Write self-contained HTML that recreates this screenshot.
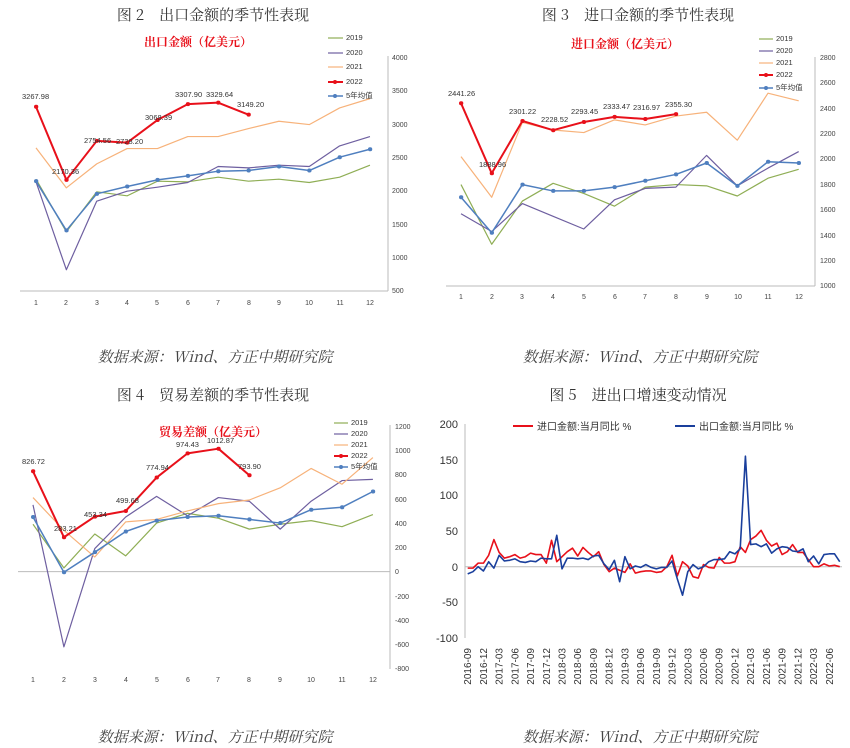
<!DOCTYPE html>
<html><head><meta charset="utf-8"><style>
html,body{margin:0;padding:0;background:#fff;}
svg{display:block;font-family:"Liberation Sans","Noto Sans CJK SC",sans-serif;}
.t{font-family:"Noto Serif CJK SC","Liberation Serif",serif;font-size:15px;fill:#333;}
.src{font-family:"Noto Serif CJK SC","Liberation Serif",serif;font-size:15px;fill:#444;font-style:italic;}
.sub{font-family:"Noto Serif CJK SC",serif;font-size:12px;fill:#e8101a;font-weight:bold;}
.tk{font-size:7px;fill:#444;}
.lg{font-size:7.5px;fill:#333;}
.dl{font-size:7.5px;fill:#333;}
.ln{fill:none;vector-effect:non-scaling-stroke;stroke-linejoin:round;}
.mk{fill:none;vector-effect:non-scaling-stroke;stroke-linecap:round;}
.ax{stroke:#bbb;stroke-width:1;fill:none;}
</style></head><body>
<svg width="850" height="748" viewBox="0 0 850 748" xmlns="http://www.w3.org/2000/svg">
<!-- ===== Chart 1 ===== -->
<text class="t" x="213" y="20" text-anchor="middle">图 2　出口金额的季节性表现</text>
<text class="sub" x="198" y="46" text-anchor="middle">出口金额（亿美元）</text>
<line class="ax" x1="388" y1="56" x2="388" y2="291"/>
<line class="ax" x1="20" y1="291" x2="388" y2="291"/>
<g class="tk">
<text x="392" y="60">4000</text><text x="392" y="93">3500</text><text x="392" y="127">3000</text><text x="392" y="160">2500</text><text x="392" y="193">2000</text><text x="392" y="227">1500</text><text x="392" y="260">1000</text><text x="392" y="293">500</text>
</g>
<g class="tk" text-anchor="middle">
<text x="36" y="305">1</text><text x="66" y="305">2</text><text x="97" y="305">3</text><text x="127" y="305">4</text><text x="157" y="305">5</text><text x="188" y="305">6</text><text x="218" y="305">7</text><text x="249" y="305">8</text><text x="279" y="305">9</text><text x="309" y="305">10</text><text x="340" y="305">11</text><text x="370" y="305">12</text>
</g>
<g transform="translate(5.64,324.3) scale(30.36,-0.06657)">
<polyline class="ln" stroke="#8fae55" stroke-width="1.2" points="1,2180 2,1390 3,1990 4,1930 5,2150 6,2140 7,2210 8,2150 9,2180 10,2130 11,2210 12,2390"/>
<polyline class="ln" stroke="#6e5fa0" stroke-width="1.2" points="1,2140 2,820 3,1850 4,2000 5,2060 6,2130 7,2370 8,2350 9,2390 10,2370 11,2680 12,2820"/>
<polyline class="ln" stroke="#f7b27a" stroke-width="1.2" points="1,2650 2,2050 3,2410 4,2640 5,2640 6,2820 7,2820 8,2940 9,3050 10,3000 11,3250 12,3390"/>
<polyline class="ln" stroke="#4f7fbf" stroke-width="1.5" points="1,2150 2,1410 3,1960 4,2070 5,2170 6,2230 7,2300 8,2310 9,2370 10,2310 11,2510 12,2630"/>
<path class="mk" stroke="#4f7fbf" stroke-width="4" d="M1 2150h.01M2 1410h.01M3 1960h.01M4 2070h.01M5 2170h.01M6 2230h.01M7 2300h.01M8 2310h.01M9 2370h.01M10 2310h.01M11 2510h.01M12 2630h.01"/>
<polyline class="ln" stroke="#e8101a" stroke-width="2" points="1,3267.98 2,2170.36 3,2754.56 4,2728.2 5,3068.39 6,3307.9 7,3329.64 8,3149.2"/>
<path class="mk" stroke="#e8101a" stroke-width="4" d="M1 3267.98h.01M2 2170.36h.01M3 2754.56h.01M4 2728.2h.01M5 3068.39h.01M6 3307.9h.01M7 3329.64h.01M8 3149.2h.01"/>
</g>
<g class="dl">
<text x="22" y="99">3267.98</text><text x="52" y="174">2170.36</text><text x="84" y="143">2754.56</text><text x="116" y="144">2728.20</text><text x="145" y="120">3068.39</text><text x="175" y="97">3307.90</text><text x="206" y="97">3329.64</text><text x="237" y="107">3149.20</text>
</g>
<g class="lg">
<line x1="328" y1="38" x2="343" y2="38" stroke="#8fae55" stroke-width="1.2"/><text x="346" y="40">2019</text>
<line x1="328" y1="53" x2="343" y2="53" stroke="#6e5fa0" stroke-width="1.2"/><text x="346" y="55">2020</text>
<line x1="328" y1="67" x2="343" y2="67" stroke="#f7b27a" stroke-width="1.2"/><text x="346" y="69">2021</text>
<line x1="328" y1="82" x2="343" y2="82" stroke="#e8101a" stroke-width="2"/><circle cx="335" cy="82" r="2" fill="#e8101a"/><text x="346" y="84">2022</text>
<line x1="328" y1="96" x2="343" y2="96" stroke="#4f7fbf" stroke-width="1.5"/><circle cx="335" cy="96" r="2" fill="#4f7fbf"/><text x="346" y="98">5年均值</text>
</g>
<text class="src" x="215" y="362" text-anchor="middle">数据来源：Wind、方正中期研究院</text>

<!-- ===== Chart 2 ===== -->
<text class="t" x="638" y="20" text-anchor="middle">图 3　进口金额的季节性表现</text>
<text class="sub" x="625" y="48" text-anchor="middle">进口金额（亿美元）</text>
<line class="ax" x1="815" y1="57" x2="815" y2="286"/>
<line class="ax" x1="446" y1="286" x2="815" y2="286"/>
<g class="tk">
<text x="820" y="60">2800</text><text x="820" y="85">2600</text><text x="820" y="111">2400</text><text x="820" y="136">2200</text><text x="820" y="161">2000</text><text x="820" y="187">1800</text><text x="820" y="212">1600</text><text x="820" y="238">1400</text><text x="820" y="263">1200</text><text x="820" y="288">1000</text>
</g>
<g class="tk" text-anchor="middle">
<text x="461" y="299">1</text><text x="492" y="299">2</text><text x="522" y="299">3</text><text x="553" y="299">4</text><text x="584" y="299">5</text><text x="615" y="299">6</text><text x="645" y="299">7</text><text x="676" y="299">8</text><text x="707" y="299">9</text><text x="738" y="299">10</text><text x="768" y="299">11</text><text x="799" y="299">12</text>
</g>
<g transform="translate(430.3,413) scale(30.7,-0.1269)">
<polyline class="ln" stroke="#8fae55" stroke-width="1.2" points="1,1800 2,1330 3,1670 4,1810 5,1730 6,1630 7,1780 8,1800 9,1790 10,1710 11,1850 12,1920"/>
<polyline class="ln" stroke="#6e5fa0" stroke-width="1.2" points="1,1570 2,1430 3,1650 4,1550 5,1450 6,1680 7,1770 8,1780 9,2030 10,1790 11,1930 12,2060"/>
<polyline class="ln" stroke="#f7b27a" stroke-width="1.2" points="1,2020 2,1700 3,2290 4,2230 5,2210 6,2310 7,2270 8,2340 9,2370 10,2150 11,2520 12,2460"/>
<polyline class="ln" stroke="#4f7fbf" stroke-width="1.5" points="1,1700 2,1420 3,1800 4,1750 5,1750 6,1780 7,1830 8,1880 9,1970 10,1790 11,1980 12,1970"/>
<path class="mk" stroke="#4f7fbf" stroke-width="4" d="M1 1700h.01M2 1420h.01M3 1800h.01M4 1750h.01M5 1750h.01M6 1780h.01M7 1830h.01M8 1880h.01M9 1970h.01M10 1790h.01M11 1980h.01M12 1970h.01"/>
<polyline class="ln" stroke="#e8101a" stroke-width="2" points="1,2441.26 2,1888.96 3,2301.22 4,2228.52 5,2293.45 6,2333.47 7,2316.97 8,2355.3"/>
<path class="mk" stroke="#e8101a" stroke-width="4" d="M1 2441.26h.01M2 1888.96h.01M3 2301.22h.01M4 2228.52h.01M5 2293.45h.01M6 2333.47h.01M7 2316.97h.01M8 2355.3h.01"/>
</g>
<g class="dl">
<text x="448" y="96">2441.26</text><text x="479" y="167">1888.96</text><text x="509" y="114">2301.22</text><text x="541" y="122">2228.52</text><text x="571" y="114">2293.45</text><text x="603" y="109">2333.47</text><text x="633" y="110">2316.97</text><text x="665" y="107">2355.30</text>
</g>
<g class="lg">
<line x1="759" y1="39" x2="773" y2="39" stroke="#8fae55" stroke-width="1.2"/><text x="776" y="41">2019</text>
<line x1="759" y1="51" x2="773" y2="51" stroke="#6e5fa0" stroke-width="1.2"/><text x="776" y="53">2020</text>
<line x1="759" y1="63" x2="773" y2="63" stroke="#f7b27a" stroke-width="1.2"/><text x="776" y="65">2021</text>
<line x1="759" y1="75" x2="773" y2="75" stroke="#e8101a" stroke-width="2"/><circle cx="766" cy="75" r="2" fill="#e8101a"/><text x="776" y="77">2022</text>
<line x1="759" y1="88" x2="773" y2="88" stroke="#4f7fbf" stroke-width="1.5"/><circle cx="766" cy="88" r="2" fill="#4f7fbf"/><text x="776" y="90">5年均值</text>
</g>
<text class="src" x="640" y="362" text-anchor="middle">数据来源：Wind、方正中期研究院</text>

<!-- ===== Chart 3 ===== -->
<text class="t" x="213" y="400" text-anchor="middle">图 4　贸易差额的季节性表现</text>
<text class="sub" x="213" y="436" text-anchor="middle">贸易差额（亿美元）</text>
<line class="ax" x1="390" y1="425" x2="390" y2="669"/>
<line class="ax" x1="18" y1="571.6" x2="390" y2="571.6"/>
<g class="tk">
<text x="395" y="429">1200</text><text x="395" y="453">1000</text><text x="395" y="477">800</text><text x="395" y="502">600</text><text x="395" y="526">400</text><text x="395" y="550">200</text><text x="395" y="574">0</text><text x="395" y="599">-200</text><text x="395" y="623">-400</text><text x="395" y="647">-600</text><text x="395" y="671">-800</text>
</g>
<g class="tk" text-anchor="middle">
<text x="33" y="682">1</text><text x="64" y="682">2</text><text x="95" y="682">3</text><text x="126" y="682">4</text><text x="157" y="682">5</text><text x="188" y="682">6</text><text x="218" y="682">7</text><text x="249" y="682">8</text><text x="280" y="682">9</text><text x="311" y="682">10</text><text x="342" y="682">11</text><text x="373" y="682">12</text>
</g>
<g transform="translate(2.1,571.6) scale(30.9,-0.12135)">
<polyline class="ln" stroke="#8fae55" stroke-width="1.2" points="1,390 2,30 3,310 4,130 5,400 6,480 7,440 8,350 9,390 10,420 11,370 12,470"/>
<polyline class="ln" stroke="#6e5fa0" stroke-width="1.2" points="1,550 2,-620 3,190 4,450 5,620 6,460 7,610 8,580 9,350 10,580 11,750 12,760"/>
<polyline class="ln" stroke="#f7b27a" stroke-width="1.2" points="1,610 2,340 3,120 4,410 5,430 6,500 7,560 8,590 9,690 10,850 11,720 12,940"/>
<polyline class="ln" stroke="#4f7fbf" stroke-width="1.5" points="1,450 2,-5 3,160 4,330 5,420 6,450 7,460 8,430 9,400 10,510 11,530 12,660"/>
<path class="mk" stroke="#4f7fbf" stroke-width="4" d="M1 450h.01M2 -5h.01M3 160h.01M4 330h.01M5 420h.01M6 450h.01M7 460h.01M8 430h.01M9 400h.01M10 510h.01M11 530h.01M12 660h.01"/>
<polyline class="ln" stroke="#e8101a" stroke-width="2" points="1,826.72 2,283.21 3,453.34 4,499.68 5,774.94 6,974.43 7,1012.87 8,793.9"/>
<path class="mk" stroke="#e8101a" stroke-width="4" d="M1 826.72h.01M2 283.21h.01M3 453.34h.01M4 499.68h.01M5 774.94h.01M6 974.43h.01M7 1012.87h.01M8 793.9h.01"/>
</g>
<g class="dl">
<text x="22" y="464">826.72</text><text x="54" y="531">283.21</text><text x="84" y="517">453.34</text><text x="116" y="503">499.68</text><text x="146" y="470">774.94</text><text x="176" y="447">974.43</text><text x="207" y="443">1012.87</text><text x="238" y="469">793.90</text>
</g>
<g class="lg">
<line x1="334" y1="423" x2="348" y2="423" stroke="#8fae55" stroke-width="1.2"/><text x="351" y="425">2019</text>
<line x1="334" y1="434" x2="348" y2="434" stroke="#6e5fa0" stroke-width="1.2"/><text x="351" y="436">2020</text>
<line x1="334" y1="445" x2="348" y2="445" stroke="#f7b27a" stroke-width="1.2"/><text x="351" y="447">2021</text>
<line x1="334" y1="456" x2="348" y2="456" stroke="#e8101a" stroke-width="2"/><circle cx="341" cy="456" r="2" fill="#e8101a"/><text x="351" y="458">2022</text>
<line x1="334" y1="467" x2="348" y2="467" stroke="#4f7fbf" stroke-width="1.5"/><circle cx="341" cy="467" r="2" fill="#4f7fbf"/><text x="351" y="469">5年均值</text>
</g>
<text class="src" x="215" y="742" text-anchor="middle">数据来源：Wind、方正中期研究院</text>

<!-- ===== Chart 4 ===== -->
<text class="t" x="638" y="400" text-anchor="middle">图 5　进出口增速变动情况</text>
<line class="ax" x1="465" y1="424" x2="465" y2="638"/>
<line class="ax" x1="465" y1="566.7" x2="842" y2="566.7"/>
<g style="font-size:11px;fill:#333" text-anchor="end">
<text x="458" y="428">200</text><text x="458" y="464">150</text><text x="458" y="499">100</text><text x="458" y="535">50</text><text x="458" y="571">0</text><text x="458" y="606">-50</text><text x="458" y="642">-100</text>
</g>
<g style="font-size:10px;fill:#333" text-anchor="end">
<text transform="translate(471.2,648) rotate(-90)">2016-09</text>
<text transform="translate(486.9,648) rotate(-90)">2016-12</text>
<text transform="translate(502.6,648) rotate(-90)">2017-03</text>
<text transform="translate(518.4,648) rotate(-90)">2017-06</text>
<text transform="translate(534.1,648) rotate(-90)">2017-09</text>
<text transform="translate(549.8,648) rotate(-90)">2017-12</text>
<text transform="translate(565.5,648) rotate(-90)">2018-03</text>
<text transform="translate(581.2,648) rotate(-90)">2018-06</text>
<text transform="translate(597.0,648) rotate(-90)">2018-09</text>
<text transform="translate(612.7,648) rotate(-90)">2018-12</text>
<text transform="translate(628.4,648) rotate(-90)">2019-03</text>
<text transform="translate(644.1,648) rotate(-90)">2019-06</text>
<text transform="translate(659.8,648) rotate(-90)">2019-09</text>
<text transform="translate(675.6,648) rotate(-90)">2019-12</text>
<text transform="translate(691.3,648) rotate(-90)">2020-03</text>
<text transform="translate(707.0,648) rotate(-90)">2020-06</text>
<text transform="translate(722.7,648) rotate(-90)">2020-09</text>
<text transform="translate(738.4,648) rotate(-90)">2020-12</text>
<text transform="translate(754.2,648) rotate(-90)">2021-03</text>
<text transform="translate(769.9,648) rotate(-90)">2021-06</text>
<text transform="translate(785.6,648) rotate(-90)">2021-09</text>
<text transform="translate(801.3,648) rotate(-90)">2021-12</text>
<text transform="translate(817.0,648) rotate(-90)">2022-03</text>
<text transform="translate(832.8,648) rotate(-90)">2022-06</text>
</g>
<g transform="translate(467.7,566.7) scale(5.24,-0.7133)">
<polyline class="ln" stroke="#e8101a" stroke-width="1.6" points="0,-2 1,-2 2,5 3,5 4,16 5,38 6,20 7,12 8,14 9,17 10,12 11,14 12,19 13,17 14,17 15,5 16,37 17,7 18,14 19,21 20,26 21,15 22,27 23,20 24,14 25,21 26,3 27,-7 28,-2 29,-5 30,-8 31,4 32,-9 33,-7 34,-6 35,-6 36,-8 37,-7 38,0 39,16 40,-13 41,7 42,1 43,-14 44,-16 45,3 46,-1 47,-2 48,13 49,5 50,5 51,7 52,28 53,20 54,38 55,43 56,51 57,37 58,29 59,33 60,17 61,21 62,31 63,20 64,20 65,10 66,0 67,0 68,4 69,1 70,2 71,0"/>
<polyline class="ln" stroke="#1a3f9c" stroke-width="1.6" points="0,-10 1,-7 2,0 3,-6 4,7 5,-2 6,16 7,8 8,9 9,11 10,7 11,6 12,8 13,7 14,12 15,11 16,11 17,44 18,-3 19,12 20,12 21,11 22,12 23,10 24,15 25,16 26,4 27,-4 28,9 29,-21 30,14 31,-3 32,1 33,-1 34,3 35,-1 36,-3 37,-1 38,-1 39,8 40,-17 41,-40 42,-7 43,3 44,-3 45,0 46,7 47,10 48,10 49,11 50,21 51,18 52,25 53,155 54,31 55,32 56,28 57,32 58,19 59,25 60,28 61,27 62,22 63,21 64,25 65,7 66,15 67,4 68,17 69,18 70,18 71,7"/>
</g>
<g style="font-size:10px;fill:#333">
<line x1="513" y1="426" x2="533" y2="426" stroke="#e8101a" stroke-width="2"/><text x="537" y="430">进口金额:当月同比 %</text>
<line x1="675" y1="426" x2="695" y2="426" stroke="#1a3f9c" stroke-width="2"/><text x="699" y="430">出口金额:当月同比 %</text>
</g>
<text class="src" x="640" y="742" text-anchor="middle">数据来源：Wind、方正中期研究院</text>
</svg>
</body></html>
